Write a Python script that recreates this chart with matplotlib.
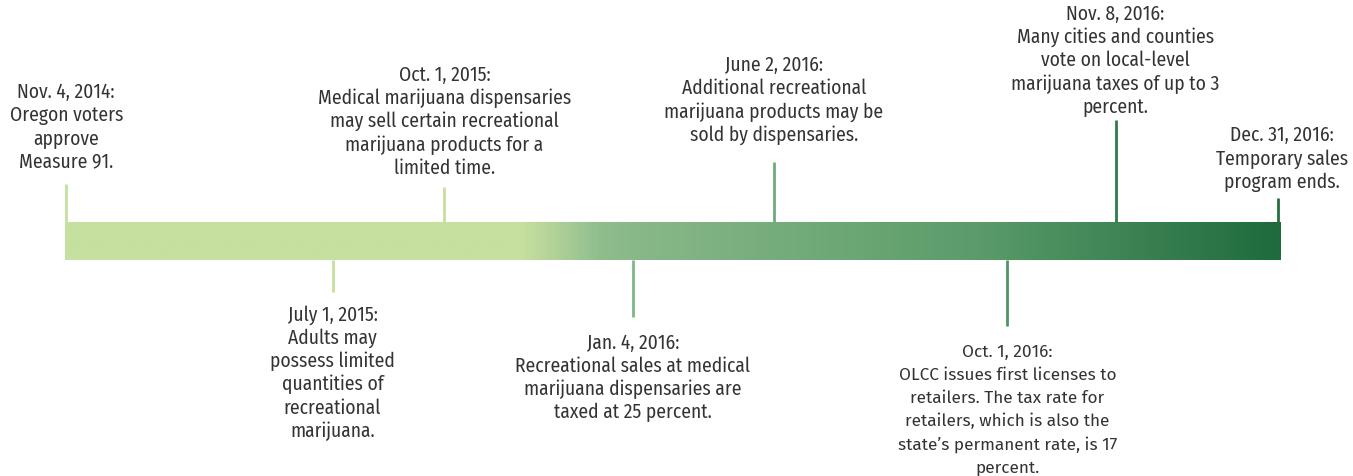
import matplotlib
matplotlib.use("Agg")
import matplotlib.pyplot as plt
import numpy as np
from matplotlib.colors import LinearSegmentedColormap
from matplotlib import font_manager

# ---- data ----
dates = ["Nov. 4, 2014:", "July 1, 2015:", "Oct. 1, 2015:", "Jan. 4, 2016:",
         "June 2, 2016:", "Oct. 1, 2016:", "Nov. 8, 2016:", "Dec. 31, 2016:"]
descriptions = [
    "Oregon voters\napprove\nMeasure 91.",
    "Adults may\npossess limited\nquantities of\nrecreational\nmarijuana.",
    "Medical marijuana dispensaries\nmay sell certain recreational\nmarijuana products for a\nlimited time.",
    "Recreational sales at medical\nmarijuana dispensaries are\ntaxed at 25 percent.",
    "Additional recreational\nmarijuana products may be\nsold by dispensaries.",
    "OLCC issues first licenses to\nretailers. The tax rate for\nretailers, which is also the\nstate\u2019s permanent rate, is 17\npercent.",
    "Many cities and counties\nvote on local-level\nmarijuana taxes of up to 3\npercent.",
    "Temporary sales\nprogram ends.",
]
# position along the timeline (0 = start, 1 = end)
timeline_pos = [0.001, 0.220, 0.312, 0.467, 0.583, 0.775, 0.864, 0.9975]
side = ["up", "down", "up", "down", "up", "down", "up", "up"]
stem_len = [38, 32, 35, 57, 60, 66, 102, 24]
text_gap = [23, 22, 20, 25, 28, 25, 14, 17]
text_dx = [0, 0, 0, 0, 0, 0, 0, 4]
line_colors = ["#c5e09f", "#c5e09f", "#c5e09f", "#80b78a", "#70ab7d",
               "#4f9464", "#2f7c4a", "#26703f"]

names = {f.name for f in font_manager.fontManager.ttflist}
def pick(*cands):
    for c in cands:
        if c in names:
            return c
    return "DejaVu Sans"
narrow = pick("Fira Sans Condensed", "Pragati Narrow", "Liberation Sans Narrow")
regular = pick("Fira Sans", "Open Sans")

W, H = 1353, 477
fig = plt.figure(figsize=(W / 100, H / 100), dpi=100)
ax = fig.add_axes([0, 0, 1, 1])
ax.set_xlim(0, W)
ax.set_ylim(H, 0)
ax.axis("off")

x0, x1 = 65, 1281
y_top, y_bot = 223, 261

cmap = LinearSegmentedColormap.from_list(
    "tl", [(0.0, "#c5e09f"), (0.375, "#c5e09f"), (0.39, "#bcd89b"),
           (0.44, "#8fbd8e"), (0.46, "#8ab98a"), (0.75, "#5b9c6a"),
           (1.0, "#1f6b3d")])
grad = np.linspace(0, 1, 600).reshape(1, -1)
ax.imshow(grad, cmap=cmap, aspect="auto", extent=(x0, x1, y_bot, y_top),
          interpolation="bilinear", zorder=2)

line_h = 23.2
for i in range(len(dates)):
    d, desc, p, s = dates[i], descriptions[i], timeline_pos[i], side[i]
    L, c, g = stem_len[i], line_colors[i], text_gap[i]
    x = x0 + p * (x1 - x0)
    lines = [d] + desc.split("\n")
    fam = [narrow, "DejaVu Sans"]
    size = 14.0
    if i == 5:
        fam = [regular, "DejaVu Sans"]
        size = 12.4
    tx = x + text_dx[i]
    n = len(lines)
    if s == "up":
        ax.plot([x, x], [y_top, y_top - L], color=c, lw=2, zorder=3,
                solid_capstyle="butt")
        ys = [y_top - L - g - (n - 1 - k) * line_h for k in range(n)]
    else:
        ax.plot([x, x], [y_bot, y_bot + L], color=c, lw=2, zorder=3,
                solid_capstyle="butt")
        ys = [y_bot + L + g + k * line_h for k in range(n)]
    for t, yy in zip(lines, ys):
        ax.text(tx, yy, t, ha="center", va="center", fontsize=size,
                family=fam, weight="normal", color="#333333")

fig.savefig("out.png", dpi=100)
